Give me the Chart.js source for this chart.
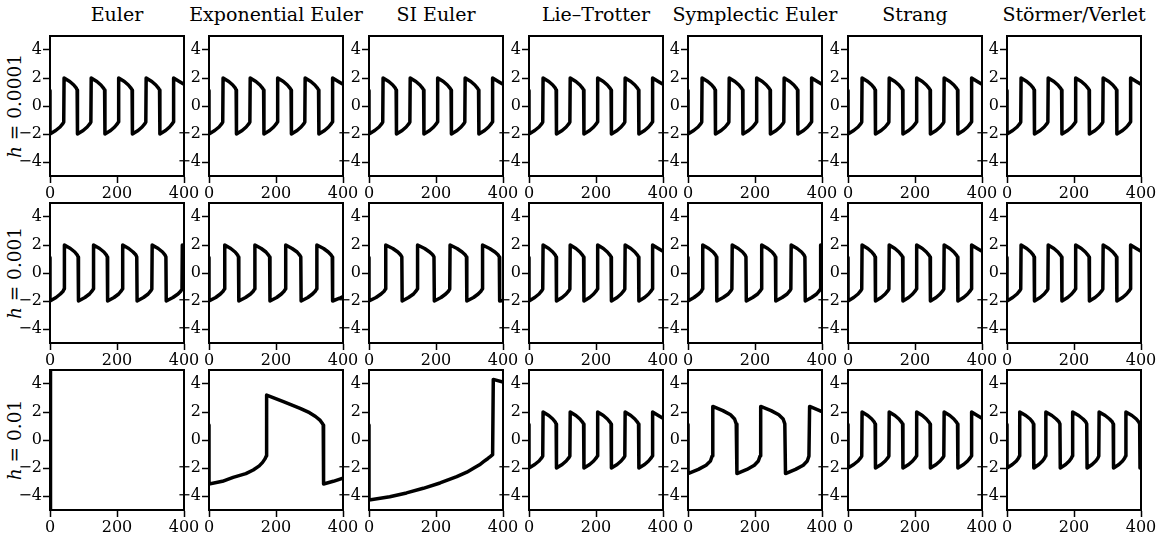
<!DOCTYPE html>
<html>
<head>
<meta charset="utf-8">
<script src="https://cdn.jsdelivr.net/npm/chart.js@4.4.1/dist/chart.umd.min.js"></script>
<style>
    body { margin: 0; background: #fff; }
    #fig { position: relative; width: 1163px; height: 537px; overflow: hidden; font-family: "DejaVu Serif", serif; color: #000; }
    #fig canvas { position: absolute; }
    .title { position: absolute; top: 3px; width: 220px; text-align: center; font-size: 19px; line-height: 22px; white-space: nowrap; }
    .rowlab { position: absolute; width: 160px; height: 22px; line-height: 22px; text-align: center; font-size: 18.5px; white-space: nowrap; transform: rotate(-90deg); }
</style>
</head>
<body>
<div id="fig"></div>
<script>
const methods = ["Euler", "Exponential Euler", "SI Euler", "Lie–Trotter", "Symplectic Euler", "Strang", "Störmer/Verlet"];
const stepSizes = ["0.0001", "0.001", "0.01"];
const xTicks = [0, 200, 400];
const yTicks = [-4, -2, 0, 2, 4];

// [t, x]
const regular = [[0,1.1],[0,-2],[17,-1.75],[30,-1.5],[37,-1.3],[41,-1.15],
    [42,2],[59,1.75],[71,1.5],[78,1.3],[81,1.15],
    [82,-2],[99,-1.75],[111,-1.5],[118,-1.3],[122,-1.15],
    [123,2],[140,1.75],[152,1.5],[159,1.3],[163,1.15],
    [164,-2],[181,-1.75],[193,-1.5],[200,-1.3],[204,-1.15],
    [205,2],[222,1.75],[234,1.5],[241,1.3],[245,1.15],
    [246,-2],[263,-1.75],[275,-1.5],[282,-1.3],[286,-1.15],
    [287,2],[304,1.75],[316,1.5],[323,1.3],[327,1.15],
    [328,-2],[345,-1.75],[357,-1.5],[364,-1.3],[368,-1.15],
    [369,2],[386,1.75],[400,1.55]];

const euler001 = [[0,1.1],[0,-2],[18,-1.75],[31,-1.5],[39,-1.3],[42,-1.15],
    [43,2],[61,1.75],[74,1.5],[81,1.3],[84,1.15],
    [85,-2],[104,-1.75],[118,-1.5],[125,-1.3],[129,-1.15],
    [130,2],[148,1.75],[161,1.5],[168,1.3],[171,1.15],
    [172,-2],[191,-1.75],[205,-1.5],[212,-1.3],[216,-1.15],
    [217,2],[235,1.75],[248,1.5],[256,1.3],[259,1.15],
    [260,-2],[279,-1.75],[293,-1.5],[300,-1.3],[304,-1.15],
    [305,2],[323,1.75],[336,1.5],[343,1.3],[346,1.15],
    [347,-2],[367,-1.75],[382,-1.5],[390,-1.3],[394,-1.15],
    [395,2],[400,1.95]];

const expEuler001 = [[0,1.1],[0,-2],[20,-1.75],[34,-1.5],[42,-1.3],[46,-1.15],
    [47,2],[65,1.75],[78,1.5],[85,1.3],[88,1.15],
    [89,-2],[109,-1.75],[124,-1.5],[132,-1.3],[136,-1.15],
    [137,2],[156,1.75],[170,1.5],[177,1.3],[181,1.15],
    [182,-2],[202,-1.75],[216,-1.5],[224,-1.3],[228,-1.15],
    [229,2],[248,1.75],[263,1.5],[270,1.3],[274,1.15],
    [275,-2],[295,-1.75],[309,-1.5],[317,-1.3],[321,-1.15],
    [322,2],[342,1.75],[356,1.5],[364,1.3],[368,1.15],
    [369,-2],[390,-1.8],[400,-1.68]];

const siEuler001 = [[0,1.1],[0,-2],[21,-1.75],[36,-1.5],[45,-1.3],[49,-1.15],
    [50,2],[71,1.75],[86,1.5],[94,1.3],[98,1.15],
    [99,-2],[118,-1.75],[133,-1.5],[140,-1.3],[144,-1.15],
    [145,2],[166,1.75],[181,1.5],[190,1.3],[194,1.15],
    [195,-2],[215,-1.75],[229,-1.5],[237,-1.3],[241,-1.15],
    [242,2],[263,1.75],[278,1.5],[287,1.3],[291,1.15],
    [292,-2],[312,-1.75],[326,-1.5],[334,-1.3],[338,-1.15],
    [339,2],[360,1.75],[376,1.5],[385,1.3],[389,1.15],
    [390,-2],[400,-1.96]];

const symplectic001 = [[0,1.1],[0,-2],[18,-1.75],[32,-1.5],[40,-1.3],[43,-1.15],
    [44,2],[62,1.75],[75,1.5],[82,1.3],[85,1.15],
    [86,-2],[105,-1.75],[120,-1.5],[127,-1.3],[131,-1.15],
    [132,2],[150,1.75],[163,1.5],[170,1.3],[173,1.15],
    [174,-2],[193,-1.75],[208,-1.5],[215,-1.3],[219,-1.15],
    [220,2],[238,1.75],[251,1.5],[258,1.3],[261,1.15],
    [262,-2],[281,-1.75],[296,-1.5],[303,-1.3],[307,-1.15],
    [308,2],[326,1.75],[339,1.5],[346,1.3],[349,1.15],
    [350,-2],[369,-1.75],[384,-1.5],[391,-1.3],[395,-1.15],
    [396,2],[400,1.96]];

const euler01 = [[0,1.1],[0.5,-12],[1,12],[1.5,-12],[2,12],[2.5,-12]];

const expEuler01 = [[0,1.07],[0,-3.14],[40,-2.95],[72,-2.67],[110,-2.4],[132,-2.14],
    [150,-1.85],[160,-1.6],[167,-1.35],[171,-1.15],
    [172,3.21],[222,2.74],[272,2.26],[300,1.95],[318,1.68],[332,1.4],[338,1.2],[341,1.07],
    [342,-3.14],[371,-2.95],[400,-2.72]];

const siEuler01 = [[0,1.07],[0,-4.29],[62,-4.05],[112,-3.78],[162,-3.45],[212,-3.07],
    [262,-2.62],[292,-2.3],[312,-2.02],[330,-1.77],[342,-1.55],[355,-1.32],[362,-1.19],[369,-1.05],
    [371,4.33],[400,4.14]];

const symplectic01 = [[0,1.1],[0,-2.4],[31,-2.1],[54,-1.8],[67,-1.5],[72,-1.15],
    [74,2.4],[104,2.1],[127,1.8],[139,1.5],[144,1.15],
    [146,-2.4],[176,-2.1],[198,-1.8],[210,-1.5],[215,-1.15],
    [217,2.4],[248,2.1],[271,1.8],[284,1.5],[289,1.15],
    [291,-2.4],[321,-2.1],[344,-1.8],[356,-1.5],[361,-1.15],
    [363,2.4],[393,2.1],[400,2.02]];

const stormer01 = [[0,1.1],[0,-2],[16,-1.75],[28,-1.5],[34,-1.3],[37,-1.15],
    [38,2],[56,1.75],[69,1.5],[76,1.3],[79,1.15],
    [80,-2],[95,-1.75],[106,-1.5],[112,-1.3],[115,-1.15],
    [116,2],[134,1.75],[147,1.5],[155,1.3],[158,1.15],
    [159,-2],[175,-1.75],[186,-1.5],[192,-1.3],[195,-1.15],
    [196,2],[214,1.75],[227,1.5],[235,1.3],[238,1.15],
    [239,-2],[254,-1.75],[265,-1.5],[271,-1.3],[274,-1.15],
    [275,2],[293,1.75],[306,1.5],[314,1.3],[317,1.15],
    [318,-2],[334,-1.75],[345,-1.5],[351,-1.3],[354,-1.15],
    [355,2],[373,1.75],[386,1.5],[393,1.3],[396,1.15],
    [397,-2],[400,-2]];

// rows = step sizes, columns = methods
const panels = [
    [regular, regular, regular, regular, regular, regular, regular],
    [euler001, expEuler001, siEuler001, regular, symplectic001, regular, regular],
    [euler01, expEuler01, siEuler01, regular, symplectic01, regular, stormer01]
];

// layout (px)
const colLeft = [50, 209, 369, 529, 688, 848, 1007];
const rowTop = [36, 203, 370];
const plotW = 134, plotH = 140;
const padL = 45, padT = 6, padR = 18, padB = 32;

const fmt = v => v < 0 ? "\u2212" + (-v) : String(v);
const tickFont = { family: "'DejaVu Serif', serif", size: 16 };

function makeChart(canvas, points) {
    const config = {
        type: "line",
        data: {
            datasets: [{
                data: points.map(p => ({ x: p[0], y: p[1] })),
                xAxisID: "x",
                yAxisID: "y",
                borderColor: "#000",
                borderWidth: 3.5,
                borderJoinStyle: "round",
                borderCapStyle: "round",
                pointRadius: 0,
                tension: 0,
                clip: 0
            }]
        },
        options: {
            responsive: false,
            animation: false,
            events: [],
            layout: { padding: { left: 0, top: padT, right: padR, bottom: 0 } },
            plugins: { legend: { display: false }, tooltip: { enabled: false } },
            scales: {
                x: {
                    type: "linear", position: "bottom", min: 0, max: 400,
                    afterBuildTicks: s => { s.ticks = xTicks.map(v => ({ value: v })); },
                    afterFit: s => { s.height = padB; s.paddingLeft = 0; s.paddingRight = 0; },
                    grid: { drawOnChartArea: false, tickLength: 7, tickWidth: 1.5, tickColor: "#000" },
                    border: { color: "#000", width: 2, z: 1 },
                    ticks: { color: "#000", font: tickFont, padding: 1, maxRotation: 0, autoSkip: false, callback: fmt }
                },
                y: {
                    type: "linear", position: "left", min: -5, max: 5,
                    afterBuildTicks: s => { s.ticks = yTicks.map(v => ({ value: v })); },
                    afterFit: s => { s.width = padL; s.paddingTop = 0; s.paddingBottom = 0; },
                    grid: { drawOnChartArea: false, tickLength: 7, tickWidth: 1.5, tickColor: "#000" },
                    border: { color: "#000", width: 2, z: 1 },
                    ticks: { color: "#000", font: tickFont, padding: 1, autoSkip: false, callback: fmt }
                },
                x2: {
                    type: "linear", position: "top", min: 0, max: 400,
                    afterFit: s => { s.height = 0; },
                    grid: { drawOnChartArea: false, drawTicks: false },
                    border: { color: "#000", width: 2, z: 1 },
                    ticks: { display: false }
                },
                y2: {
                    type: "linear", position: "right", min: -5, max: 5,
                    afterFit: s => { s.width = 0; },
                    grid: { drawOnChartArea: false, drawTicks: false },
                    border: { color: "#000", width: 2, z: 1 },
                    ticks: { display: false }
                }
            }
        }
    };
    return new Chart(canvas, config);
}

const initFigure = function () {
    const fig = document.querySelector("#fig");

    methods.forEach((name, c) => {
        const t = document.createElement("div");
        t.className = "title";
        t.textContent = name;
        t.style.left = (colLeft[c] + plotW / 2 - 110) + "px";
        fig.appendChild(t);
    });

    stepSizes.forEach((h, r) => {
        const lab = document.createElement("div");
        lab.className = "rowlab";
        lab.innerHTML = `<i>h</i> = ${h}`;
        lab.style.left = (15 - 80) + "px";
        lab.style.top = (rowTop[r] + plotH / 2 - 11) + "px";
        fig.appendChild(lab);
    });

    for (let r = 0; r < panels.length; r++) {
        for (let c = 0; c < panels[r].length; c++) {
            const cv = document.createElement("canvas");
            cv.width = padL + plotW + padR;
            cv.height = padT + plotH + padB;
            cv.style.left = (colLeft[c] - padL) + "px";
            cv.style.top = (rowTop[r] - padT) + "px";
            cv.style.width = cv.width + "px";
            cv.style.height = cv.height + "px";
            fig.appendChild(cv);
            makeChart(cv, panels[r][c]);
        }
    }
};

document.addEventListener("DOMContentLoaded", function () {
    initFigure();
});
</script>
</body>
</html>
